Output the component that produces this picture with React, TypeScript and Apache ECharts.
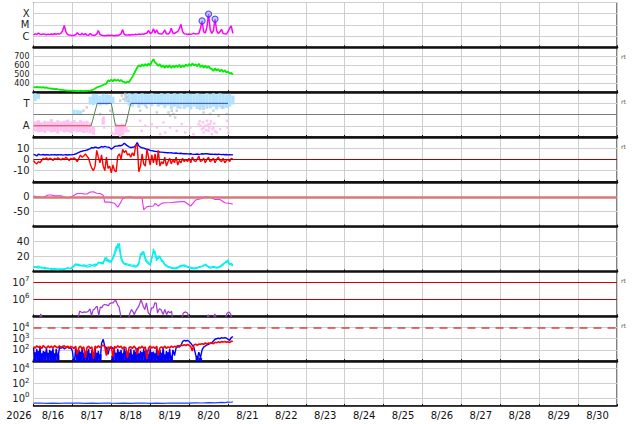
import React, { useEffect, useRef } from "react";
import * as echarts from "echarts";

const W = 634;
const H = 424;
const FONT = "DejaVu Sans";

// ---------- tick / category labels ----------
const yearLabel = "2026";
const dayLabels = ["8/16", "8/17", "8/18", "8/19", "8/20", "8/21", "8/22", "8/23", "8/24", "8/25", "8/26", "8/27", "8/28", "8/29", "8/30"];
const xrayClassLabels = { "-4": "X", "-5": "M", "-6": "C" };
const dirLabels = { "1": "T", "-1": "A" };

// ---------- data (x = hours from 8/15 00:00) ----------
// X-ray flux, log10 W/m2, hourly
const xrayLog = [
  -5.9, -5.8, -5.86, -5.72, -5.83, -5.86, -5.8, -5.84, -5.88, -5.82,
  -5.86, -5.81, -5.85, -5.79, -5.84, -5.78, -5.82, -5.74, -5.5, -5.05,
  -5.62, -5.86, -5.9, -5.93, -5.95, -5.92, -5.88, -5.7, -5.86, -5.89,
  -5.74, -5.9, -5.78, -5.91, -5.93, -5.76, -5.9, -5.93, -5.92, -5.82,
  -5.5, -5.86, -5.92, -5.95, -5.96, -5.94, -5.93, -5.95, -5.92, -5.94,
  -5.96, -5.93, -5.95, -5.9, -5.8, -5.42, -5.86, -5.9, -5.91, -5.88,
  -5.9, -5.86, -5.89, -5.84, -5.87, -5.82, -5.85, -5.8, -5.83, -5.76,
  -5.72, -5.5, -5.76, -5.7, -5.35, -5.72, -5.45, -5.76, -5.8, -5.82,
  -5.7, -5.45, -5.8, -5.82, -5.7, -5.3, -5.72, -5.76, -5.66, -5.6,
  -5.32, -4.95, -5.62, -5.78, -5.8, -5.85, -5.82, -5.84, -5.8, -5.75,
  -5.82, -5.8, -5.76, -5.3, -4.64, -5.62, -5.72, -5.2, -4.03, -5.4,
  -5.76, -5.5, -4.48, -5.5, -5.76, -5.62, -5.4, -5.76, -5.8, -5.82,
  -5.6, -5.3, -5.1, -5.75,
];
const flarePeaks = [[104, -4.64], [108, -4.03], [112, -4.48]];

// Solar wind speed km/s, hourly
const windSpeed = [
  358, 352, 360, 354, 357, 350, 356, 348, 352, 345,
  342, 338, 340, 333, 336, 330, 328, 325, 326, 322,
  320, 318, 316, 318, 314, 316, 313, 315, 312, 316,
  314, 313, 316, 314, 318, 317, 322, 330, 340, 352,
  358, 364, 372, 380, 388, 395, 432, 422, 440, 420,
  442, 426, 440, 422, 436, 418, 412, 404, 418, 410,
  445, 470, 505, 540, 575, 600, 585, 610, 590, 615,
  592, 620, 598, 640, 668, 630, 618, 592, 612, 580,
  600, 570, 598, 575, 602, 568, 596, 574, 600, 580,
  605, 575, 600, 580, 608, 590, 615, 592, 620, 600,
  612, 588, 618, 580, 600, 572, 596, 570, 590, 565,
  560, 535, 565, 540, 558, 530, 552, 525, 545, 520,
  530, 508, 515, 495,
];

// IMF sector (T = +1, A = -1): 2-hour bands [start hour, low, high]
const dirBlueBand = [
  [0, 1.2, 1.9], [2, 1.4, 1.85], [24, -0.05, 0.45], [26, 0.0, 0.4], [28, -0.05, 0.35],
  [34, 0.9, 1.6], [36, 0.85, 1.85], [38, 0.95, 1.8], [40, 0.8, 1.7], [42, 0.9, 1.85],
  [44, 0.85, 1.8], [46, 0.95, 1.75], [48, 1.0, 1.6], [56, 1.1, 1.8], [58, 0.8, 1.9],
  [60, 0.7, 1.85], [62, 0.9, 1.9], [64, 0.6, 1.8], [66, 0.85, 1.9], [68, 0.7, 1.85],
  [70, 0.9, 1.8], [72, 0.75, 1.9], [74, 0.95, 1.85], [76, 0.7, 1.8], [78, 0.85, 1.9],
  [80, 0.6, 1.85], [82, 0.8, 1.9], [84, 0.5, 1.8], [86, 0.7, 1.9], [88, 0.55, 1.85],
  [90, 0.8, 1.9], [92, 0.5, 1.8], [94, 0.65, 1.9], [96, 0.45, 1.85], [98, 0.7, 1.8],
  [100, 0.5, 1.9], [102, 0.6, 1.85], [104, 0.4, 1.8], [106, 0.75, 1.9], [108, 0.55, 1.85],
  [110, 0.7, 1.9], [112, 0.45, 1.8], [114, 0.65, 1.9], [116, 0.5, 1.85], [118, 0.6, 1.8],
  [120, 0.7, 1.85], [122, 0.9, 1.7],
];
const dirPinkBand = [
  [0, -1.5, -0.6], [2, -1.6, -0.5], [4, -1.55, -0.7], [6, -1.65, -0.55], [8, -1.5, -0.6],
  [10, -1.6, -0.4], [12, -1.55, -0.65], [14, -1.7, -0.5], [16, -1.5, -0.6], [18, -1.6, -0.55],
  [20, -1.55, -0.45], [22, -1.65, -0.6], [24, -1.5, -0.5], [26, -1.6, -0.65], [28, -1.55, -0.5],
  [30, -1.65, -0.6], [32, -1.6, -0.55], [34, -1.7, -0.7], [36, -1.8, -1.1], [42, -0.9, -0.3],
  [50, -1.8, -0.8], [52, -1.9, -0.9], [54, -1.85, -0.8], [56, -1.6, -1.0],
];
const dirPinkDots = [
  [43.2, -0.26], [43.6, -1.15], [48.3, -1.6], [49.4, -1.75], [53.5, -1.9], [57.6, -0.55], [58.6, -1.45],
  [65.8, -0.55], [66.8, -1.45], [68.9, -1.0], [73, -0.85], [76.1, -1.15], [78.2, -1.75], [80.2, -0.7],
  [81.2, -1.6], [84.3, -1.15], [88.4, -1.45], [91.5, -0.85], [93.6, -1.6], [96.7, -1.15], [98.7, -1.75],
  [101.8, -0.85], [102.5, -0.6], [103, -1.0], [103.9, -1.3], [104.5, -0.7], [104.9, -1.6], [105, -1.2],
  [105.9, -1.0], [106.5, -1.4], [107, -0.55], [107.5, -0.9], [108, -1.45], [108.5, -1.2], [109, -0.85],
  [109.5, -0.6], [110, -1.75], [110.5, -1.3], [111, -1.15], [111.5, -0.8], [112, -1.5], [113.1, -1.6],
  [115.2, -1.3], [119.3, -0.55], [119.7, -1.15], [120.1, -1.6],
];
const dirGrayDots = [
  [30.8, 0.35], [32.9, 0.64], [41.1, 0.05], [47.3, 0.35], [53.5, 1.24], [54.5, 1.69], [55.5, 1.39],
  [56.6, 1.84], [57.6, 1.54], [58.6, 1.24], [65.8, 0.35], [69.9, 0.64], [76.1, 0.19], [83.3, 0.19],
  [84.3, -0.1], [85.3, 0.35], [86.3, 0.05], [87.4, -0.26], [88.4, 0.35], [90.5, 0.64], [102.8, 0.5],
  [104.9, 0.19], [107, 0.64], [109, 0.05], [111, 0.35], [114.2, -0.1], [116.2, 0.64], [119.3, 0.05],
];
// sector fit line: [hour, level]
const dirPath = [[0, -1], [35.6, -1], [39.3, 1], [48, 1], [50.6, -1], [56.7, -1], [60, 1], [120, 1]];

// IMF Bt and Bz (nT), hourly
const imfBt = [
  4.5, 4.0, 3.0, 4.6, 4.2, 4.0, 4.4, 3.9, 4.2, 4.1,
  3.8, 4.2, 4.0, 4.3, 3.9, 4.1, 4.0, 4.2, 3.8, 4.0,
  4.1, 3.9, 4.2, 4.0, 4.3, 4.5, 4.8, 5.5, 6.2, 7.0,
  7.3, 7.8, 8.0, 8.4, 9.0, 9.6, 10.5, 10.2, 11.0, 10.6,
  10.0, 10.8, 11.5, 11.0, 11.6, 11.2, 11.0, 10.5, 9.0, 10.2,
  11.5, 11.8, 12.0, 12.4, 12.2, 13.0, 14.5, 13.2, 12.0, 11.2,
  10.5, 10.8, 11.0, 12.5, 15.0, 12.0, 11.0, 10.4, 10.0, 9.5,
  9.0, 8.8, 8.0, 7.8, 7.5, 7.2, 7.0, 6.8, 6.6, 6.5,
  6.3, 6.2, 6.0, 6.0, 5.8, 5.9, 5.6, 5.5, 5.7, 5.4,
  5.3, 5.5, 5.1, 5.0, 5.2, 4.9, 4.8, 5.0, 4.7, 4.5,
  4.6, 4.8, 4.5, 4.7, 5.0, 4.8, 5.1, 5.0, 4.8, 4.6,
  4.7, 4.5, 4.6, 4.4, 4.6, 4.5, 4.3, 4.5, 4.2, 4.4,
  4.0, 4.2, 4.0, 4.1,
];
const imfBz = [
  -1, -3, -4, -2, -3, -1, 1, 0, 1.5, -0.5,
  1, 0.5, -1, 1, 0, 1.5, 0.5, -0.5, 1, 0,
  2, 0.5, -1, 1, 0, 1.5, 0, -2, 1, 3.8,
  2, 3, 5, 3, 1, -4, -8, -10, -6, 8,
  2, -3, 4, -6, -10, 2, -8, -6, -12, -5,
  -10, -11, 3, 5, 0, 9, 6, 8, 4, 5,
  2, 6, 3, 12, 13, -11, -6, 5, -4, -6,
  9, 2, -5, 4, -3, 5, -5, 8, -6, -2,
  -4, 2, -6, -2, 1, -4, 0, -3, 2, -5,
  -1, -3, 1, -2, 0, -2, 1, -3, 2, -1,
  -2, 0, 3, -2, -1, 1, -3, 0, 2, -2,
  -1, 1, -3, 0, 2, -1, -2, 1, -3, -1,
  0, -2, 1, 0,
];

// Dst index (nT): [hour, value]
const dstIndex = [
  [0, 2], [3, 0], [6, -2], [9, 6], [11, 6], [13, 3], [17, 3], [20, -3], [22, -3], [24, 2],
  [27, 11], [30, 11], [31, 9], [33, 9], [35, 16], [37, 17], [39, 12], [41, 11], [43, 5], [44, -18],
  [47, -18], [50, -22], [52, -35], [54, -17], [55, -6], [57, -2], [60, 0], [62, -4], [65, -2], [67, -5],
  [68, -44], [70, -33], [74, -31], [75, -22], [77, -31], [79, -22], [81, -20], [85, -19], [89, -17], [93, -16],
  [97, -31], [100, -11], [104, -6], [106, 0], [109, -2], [112, -9], [115, -9], [118, -20], [123, -24],
];

// Panel 6 two traces: [hour, value]
const cyanTraceA = [
  [0, 6.9], [2, 5.6], [3, 7.5], [5, 4.3], [7, 5.6], [9, 3.4], [11, 4.3], [13, 2.5], [15, 3.4], [17, 2.5],
  [19, 3.4], [21, 4.3], [23, 3.4], [25, 6.9], [26, 8.6], [27, 9.9], [28, 7.5], [29, 8.6], [31, 6.9], [32, 8.6],
  [33, 5.6], [35, 6.9], [36, 8.6], [38, 6.9], [39, 9.9], [40, 11], [42, 12.2], [43, 10], [44, 18.6], [45, 14],
  [46, 16.5], [47, 12.2], [48, 14.3], [49, 16.5], [50, 22], [51, 28], [52, 37.4], [53, 30], [54, 16.5], [55, 12],
  [56, 9.9], [58, 8.6], [60, 7.5], [62, 6.9], [63, 5.6], [64, 6.9], [65, 9.9], [66, 20], [67, 26], [68, 24],
  [69, 15], [70, 12.2], [71, 10], [72, 8.6], [73, 16], [74, 30.4], [75, 22], [76, 14.3], [77, 20.9], [78, 18],
  [79, 16.5], [80, 12], [81, 8.6], [82, 6.9], [83, 5.6], [85, 4.3], [87, 3.4], [89, 4.3], [91, 6.9], [92, 8.6],
  [93, 6.9], [95, 5.6], [97, 4.3], [99, 3.4], [101, 4.3], [103, 5.6], [105, 8.6], [106, 8.6], [107, 6.9], [109, 4.3],
  [111, 5.6], [113, 4.3], [115, 5.6], [117, 8.6], [119, 14.3], [120, 12], [121, 10], [122, 8.6], [123, 7.5],
];
const cyanTraceB = [
  [0, 5], [1, 6.5], [3, 4.5], [5, 6], [7, 3.5], [9, 4.5], [11, 2.8], [13, 3.8], [15, 2.2], [17, 3.6],
  [19, 2.8], [21, 5], [23, 4.3], [25, 8], [26, 10.5], [27, 8], [28, 10], [29, 7], [31, 9], [32, 7],
  [33, 8], [35, 9.5], [36, 7.5], [38, 10], [39, 8], [40, 12.5], [42, 10.5], [43, 13], [44, 15], [45, 19],
  [46, 13], [47, 15], [48, 12], [49, 19], [50, 26], [51, 34], [52, 31], [53, 38], [54, 20], [55, 14],
  [56, 11], [58, 10], [60, 9], [62, 8.5], [63, 7], [64, 8.5], [65, 12], [66, 24], [67, 22], [68, 27],
  [69, 18], [70, 14], [71, 12], [72, 10.5], [73, 19], [74, 26], [75, 27], [76, 17], [77, 17], [78, 21],
  [79, 13], [80, 14], [81, 10], [82, 8.5], [83, 7], [85, 5.5], [87, 4.5], [89, 5.8], [91, 8.5], [92, 7],
  [93, 9], [95, 7], [97, 5.5], [99, 4.5], [101, 5.5], [103, 7], [105, 7], [106, 10], [107, 8], [109, 5.5],
  [111, 7], [113, 5.5], [115, 7], [117, 10.5], [119, 12], [120, 15.5], [121, 9], [122, 11], [123, 9],
];

// Electron flux, log10: [hour, value]
const electronLog = [
  [0, 4.6], [3.5, 4.8], [4.5, 5.14], [5.5, 4.8], [26, 4.7], [27.6, 4.95], [28.5, 5.3], [30, 5.22], [31.5, 5.26],
  [32.7, 5.24], [33.8, 5.3], [34.8, 5.44], [35.8, 5.05], [36.8, 5.38], [37.6, 5.42], [38.6, 5.55], [39.2, 5.6],
  [40.3, 5.05], [41.2, 5.55], [42, 5.5], [43, 5.65], [44, 5.7], [45, 5.68], [46.1, 5.62], [47, 5.75], [48.2, 5.8],
  [49.2, 5.8], [49.8, 5.88], [50.6, 5.96], [51.2, 5.84], [52, 5.65], [52.7, 5.58], [53.5, 5.2], [54, 4.8],
  [58.5, 4.8], [59.5, 5.2], [60.5, 5.4], [61.5, 5.25], [62.1, 5.1], [63.6, 5.4], [65, 5.6], [66.3, 5.96], [67, 5.8],
  [67.7, 5.6], [68.7, 5.4], [69.7, 5.8], [70.8, 5.2], [71.8, 5.1], [72.8, 5.5], [73.9, 5.5], [74.9, 5.8],
  [75.7, 5.78], [76.5, 5.2], [77.6, 5.44], [78.6, 5.4], [80, 5.1], [81, 5.4], [82.1, 5.1], [83.1, 5.3],
  [84.2, 5.2], [85.2, 5.3], [85.8, 4.8], [91.4, 4.8], [92.4, 5.2], [93.8, 5.26], [95, 5.2], [96.5, 4.8],
  [106.8, 4.8], [107.8, 5.1], [108.8, 4.8], [110.9, 4.85], [111.9, 5.14], [112.9, 4.85], [118.1, 4.8],
  [119.5, 5.2], [120.6, 5.26], [121.6, 5.15], [122.6, 4.8],
];

// Panel 8 fluxes, log10, hourly
const fluxBlueLog = [
  2.2, 0.6, 2.1, 0.8, 2.25, 0.5, 1.9, 0.7, 2.2, 0.6, 2.0, 0.9, 2.15, 0.5, 2.1, 1.2,
  2.2, 2.15, 2.25, 2.1, 2.2, 2.3, 2.15, 2.2,
  1.9, 0.6, 2.1, 0.7, 2.0, 0.5, 2.15, 0.8, 1.8, 0.6, 2.1, 0.5, 2.0, 0.9, 2.2, 0.6, 1.9, 0.8,
  2.6, 2.95,
  2.3, 2.2, 1.6, 2.25, 2.1, 2.2,
  1.9, 0.6, 2.1, 0.5, 2.0, 0.8, 2.15, 0.6, 1.8, 0.5, 2.1, 0.7, 2.0, 0.6, 2.2, 0.5, 1.9, 0.8, 2.1,
  0.6, 2.0, 0.5, 2.15, 0.7, 1.85, 0.6, 2.1, 0.5, 2.0, 0.8, 2.2, 0.6, 1.9, 0.5, 2.1, 0.7, 2.0, 1.5,
  2.2, 2.3, 2.25, 2.4,
  2.75, 2.85, 2.8, 2.85, 2.75,
  2.6, 2.4, 2.2,
  1.6, 1.2, 1.8, 1.3,
  2.0, 2.25, 2.35, 2.45,
  2.5, 2.6, 2.65, 2.8,
  2.95, 3.0, 3.05, 3.0,
  3.1, 3.05, 3.1, 3.05,
  2.95, 2.85, 3.1, 3.2,
];
// blue low-flux fill below the trace: 2-hour bins [start hour, low, high]
const fluxBlueFill = [
  [0, 1, 1.8], [2, 1, 1.9], [4, 1, 1.7], [6, 1, 1.85], [8, 1, 1.75], [10, 1, 1.9], [12, 1, 1.7], [14, 1, 1.55],
  [26, 1, 1.7], [28, 1, 1.85], [30, 1, 1.75], [32, 1, 1.9], [34, 1, 1.7], [36, 1, 1.8], [38, 1, 1.75], [40, 1, 1.6],
  [48, 1, 1.5], [50, 1, 1.75], [52, 1, 1.85], [54, 1, 1.7], [56, 1, 1.9], [58, 1, 1.75], [60, 1, 1.6], [62, 1, 1.85],
  [64, 1, 1.7], [66, 1, 1.8], [68, 1, 1.9], [70, 1, 1.65], [72, 1, 1.8], [74, 1, 1.7], [76, 1, 1.85], [78, 1, 1.75],
  [80, 1, 1.6], [82, 1, 1.8], [84, 1, 1.5], [100, 1, 1.45], [102, 1, 1.3],
];
const fluxRedLog = [
  2.3, 2.15, 2.38, 2.22, 2.34, 2.12, 2.38, 2.25, 2.18, 2.36, 2.2, 2.34, 2.16, 2.38, 2.26, 2.2, 2.36, 2.24, 2.32, 2.38, 2.2, 2.34, 2.16, 2.32,
  2.25, 2.12, 2.34, 1.6, 2.2, 2.34, 2.08, 2.28, 1.3, 2.2, 2.34, 2.12, 2.28, 1.2, 2.34, 2.18, 2.38, 2.22, 2.34, 2.42, 2.28, 1.5, 2.28, 2.16, 2.32, 1.4,
  2.32, 2.16, 2.38, 2.22, 2.34, 2.08, 2.28, 2.18, 1.3, 2.22, 2.28, 2.12, 2.34, 2.18, 1.6, 2.28, 2.16, 2.34, 2.12,
  2.28, 1.2, 2.18, 2.34, 2.16, 2.28, 2.12, 2.34, 1.5, 2.18, 2.28, 2.16, 2.34, 2.12, 2.28, 2.18, 2.34, 2.22, 2.32,
  2.28, 2.38, 2.36, 2.42, 2.4, 2.46, 2.4, 2.48, 2.42, 2.3, 1.9, 2.45,
  2.52, 2.42, 2.52, 2.5, 2.56, 2.5, 2.62, 2.52, 2.62, 2.58, 2.62, 2.56,
  2.68, 2.64, 2.72, 2.66, 2.74, 2.7, 2.76, 2.68, 2.72, 2.66, 2.76, 2.78,
];

// Bottom panel flux, log10: [hour, value]
const lowFluxLog = [
  [0, -0.62], [4, -0.6], [8, -0.65], [12, -0.62], [16, -0.64], [20, -0.6], [24, -0.63], [28, -0.61], [32, -0.66],
  [36, -0.62], [40, -0.64], [44, -0.6], [48, -0.63], [52, -0.65], [56, -0.62], [60, -0.66], [64, -0.63], [68, -0.6],
  [72, -0.64], [76, -0.62], [80, -0.65], [84, -0.6], [88, -0.63], [92, -0.6], [96, -0.62], [100, -0.58], [104, -0.6],
  [108, -0.55], [112, -0.58], [116, -0.52], [118, -0.56], [120, -0.48], [122, -0.5], [123, -0.45],
];

// ---------- layout ----------
const PANELS = 9;
const TOP = 2.5;
const PH = 44.83;
const LEFT = 33.5;
const RIGHT = 17;
const HOURS = 360;
const BIN = 2;
const GRID_C = "#cfcfcf";
const TXT = "#222";

function buildOption() {
  const grids: any[] = [];
  for (let i = 0; i < PANELS; i++) {
    grids.push({ left: LEFT, right: RIGHT, top: TOP + i * PH, height: PH, show: true, borderColor: "#000", borderWidth: 1 });
  }
  grids.push({ left: LEFT, right: RIGHT, top: TOP + 8 * PH, height: PH, show: false });

  const xAxes: any[] = grids.slice(0, PANELS).map((_, i) => ({
    type: "value", gridIndex: i, min: 0, max: HOURS, interval: 24,
    axisLine: { show: true, onZero: false, lineStyle: { color: "#111", width: i === PANELS - 1 ? 1.5 : 2.5 } },
    axisTick: { show: true, inside: true, length: 2, lineStyle: { color: "#111" } },
    axisLabel: { show: false },
    splitLine: { show: true, lineStyle: { color: GRID_C, width: 1 } },
  }));
  xAxes.push({
    type: "value", gridIndex: PANELS, min: 0, max: HOURS, interval: 12,
    axisLine: { show: false }, axisTick: { show: false }, splitLine: { show: false },
    axisLabel: {
      show: true, margin: 5, fontSize: 10, color: "#111", fontFamily: FONT,
      formatter: (v: number) => {
        const k = (v - 12) / 24;
        return Number.isInteger(k) && k >= 0 && k < dayLabels.length ? dayLabels[k] : "";
      },
    },
  });

  const pow = (v: number) => `{b|10}{s|${v}}`;
  const rich = {
    b: { fontSize: 10, color: TXT, fontFamily: FONT },
    s: { fontSize: 7, color: TXT, fontFamily: FONT, padding: [0, 0, 6, 0] },
  };
  const yBase = (i: number, o: any) => ({
    type: "value", gridIndex: i,
    axisLine: { show: false }, axisTick: { show: false },
    splitLine: { show: true, lineStyle: { color: GRID_C, width: 1 } },
    ...o,
    axisLabel: { fontSize: 10, color: TXT, margin: 4, fontFamily: FONT, ...(o.axisLabel || {}) },
  });
  const yAxes: any[] = [
    yBase(0, { min: -7, max: -3, interval: 1, axisLabel: { formatter: (v: number) => (xrayClassLabels as any)[String(v)] || "" } }),
    yBase(1, { min: 300, max: 800, interval: 100, axisLabel: { fontSize: 8, lineHeight: 8, showMinLabel: false, showMaxLabel: false } }),
    yBase(2, { min: -2, max: 2, interval: 1, axisLabel: { formatter: (v: number) => (dirLabels as any)[String(v)] || "" } }),
    yBase(3, { min: -20, max: 20, interval: 10, axisLabel: { formatter: (v: number) => (Math.abs(v) < 20 ? String(v) : "") } }),
    yBase(4, { min: -100, max: 50, interval: 50, axisLabel: { formatter: (v: number) => (v === 0 || v === -50 ? String(v) : "") } }),
    yBase(5, { min: 0, max: 60, interval: 20, axisLabel: { formatter: (v: number) => (v === 20 || v === 40 ? String(v) : "") } }),
    yBase(6, { min: 5, max: 7.65, interval: 1, splitLine: { show: false }, axisLabel: { rich, formatter: (v: number) => (v === 6 || v === 7 ? pow(v) : "") } }),
    yBase(7, { min: 1, max: 5, interval: 1, axisLabel: { rich, formatter: (v: number) => (v >= 2 && v <= 4 && Number.isInteger(v) ? pow(v) : "") } }),
    yBase(8, { min: -1, max: 5, splitNumber: 3, axisLabel: { rich, formatter: (v: number) => (v === 0 || v === 2 || v === 4 ? pow(v) : "") } }),
    { type: "value", gridIndex: PANELS, show: false, min: 0, max: 1 },
  ];

  const hourly = (arr: number[]) => arr.map((v, i) => [i, v]);
  const line = (gi: number, data: any[], color: string, width = 1, extra: any = {}) => ({
    type: "line", xAxisIndex: gi, yAxisIndex: gi, data, showSymbol: false, symbol: "none",
    lineStyle: { color, width }, itemStyle: { color }, silent: true, clip: true, animation: false, ...extra,
  });
  const refLine = (gi: number, vals: number[], color: string, width: number, type: any = "solid") => ({
    type: "line", xAxisIndex: gi, yAxisIndex: gi, data: [], silent: true, animation: false,
    markLine: {
      silent: true, symbol: ["none", "none"], label: { show: false }, animation: false,
      lineStyle: { color, width, type }, data: vals.map((v) => ({ yAxis: v })),
    },
  });
  const band = (gi: number, data: any[], color: string) => ({
    type: "custom", xAxisIndex: gi, yAxisIndex: gi, data, encode: { x: 0, y: [1, 2] }, silent: true, animation: false,
    renderItem: (params: any, api: any) => {
      const x = api.value(0);
      const p1 = api.coord([x, api.value(2)]);
      const p2 = api.coord([x + BIN, api.value(1)]);
      return { type: "rect", shape: { x: p1[0], y: p1[1], width: p2[0] - p1[0], height: p2[1] - p1[1] }, style: { fill: color } };
    },
  });
  const dots = (gi: number, data: any[], color: string) => ({
    type: "scatter", xAxisIndex: gi, yAxisIndex: gi, data, symbol: "rect", symbolSize: 2.5,
    itemStyle: { color }, silent: true, animation: false,
  });

  const dirSeries: any[] = [];
  for (let k = 0; k < dirPath.length - 1; k++) {
    const a = dirPath[k], b = dirPath[k + 1];
    const col = a[1] === b[1] ? (a[1] < 0 ? "#e23a3a" : "#3a3aff") : "#4f8a4f";
    dirSeries.push(line(2, [a, b], col, 1, { z: 4 }));
  }

  const series: any[] = [
    // panel 1
    line(0, hourly(xrayLog), "#ff00ff", 1.5),
    {
      type: "scatter", xAxisIndex: 0, yAxisIndex: 0, data: flarePeaks, symbol: "circle", symbolSize: 6,
      itemStyle: { color: "rgba(150,150,255,0.55)", borderColor: "#2a2aff", borderWidth: 1.2 }, silent: true, z: 5,
    },
    // panel 2
    line(1, hourly(windSpeed), "#00ee00", 1.8),
    // panel 3
    refLine(2, [0], "#7a7a7a", 1),
    band(2, dirPinkBand, "#ffc2f2"),
    band(2, dirBlueBand, "#b0e2ff"),
    dots(2, dirGrayDots, "#c4c4c4"),
    dots(2, dirPinkDots, "#ffb8f0"),
    ...dirSeries,
    // panel 4
    refLine(3, [0], "#b00000", 1),
    line(3, hourly(imfBt), "#0000ff", 1.4),
    line(3, hourly(imfBz), "#ff0000", 1.4),
    // panel 5
    refLine(4, [0], "#d47a7a", 2.5),
    line(4, dstIndex, "#ee33ee", 1.1),
    // panel 6
    line(5, cyanTraceA, "#00f0f0", 1.2),
    line(5, cyanTraceB, "#00f0f0", 1.2),
    // panel 7
    refLine(6, [6, 7], "#cc0000", 1),
    line(6, electronLog, "#a034d4", 1.2),
    // panel 8
    refLine(7, [4], "#e04040", 1.5, [8, 6]),
    band(7, fluxBlueFill, "#0000ff"),
    line(7, hourly(fluxBlueLog), "#0000ff", 1.4),
    line(7, hourly(fluxRedLog), "#ff0000", 1.6),
    // panel 9
    line(8, lowFluxLog, "#2040ff", 1.2),
  ];

  const rtY = [1, 2, 3, 6, 7];
  const graphic: any[] = rtY.map((i) => ({
    type: "text", x: 621, y: TOP + i * PH + 9.5,
    style: { text: "rt", fontSize: 6, fill: "#555", fontFamily: FONT, verticalAlign: "middle" },
    silent: true,
  }));
  graphic.push({
    type: "text", x: 19, y: TOP + 9 * PH + 10,
    style: { text: yearLabel, fontSize: 10, fill: "#111", fontFamily: FONT, align: "center", verticalAlign: "middle" },
    silent: true,
  });

  return {
    animation: false,
    backgroundColor: "#ffffff",
    textStyle: { fontFamily: FONT },
    grid: grids,
    xAxis: xAxes,
    yAxis: yAxes,
    series,
    graphic,
  };
}

export default function App() {
  const ref = useRef<HTMLDivElement>(null);
  useEffect(() => {
    if (!ref.current) return;
    const chart = echarts.init(ref.current, null, { renderer: "svg", width: W, height: H });
    chart.setOption(buildOption() as any);
    return () => chart.dispose();
  }, []);
  return <div ref={ref} style={{ position: "fixed", left: 0, top: 0, width: W, height: H, background: "#fff" }} />;
}
